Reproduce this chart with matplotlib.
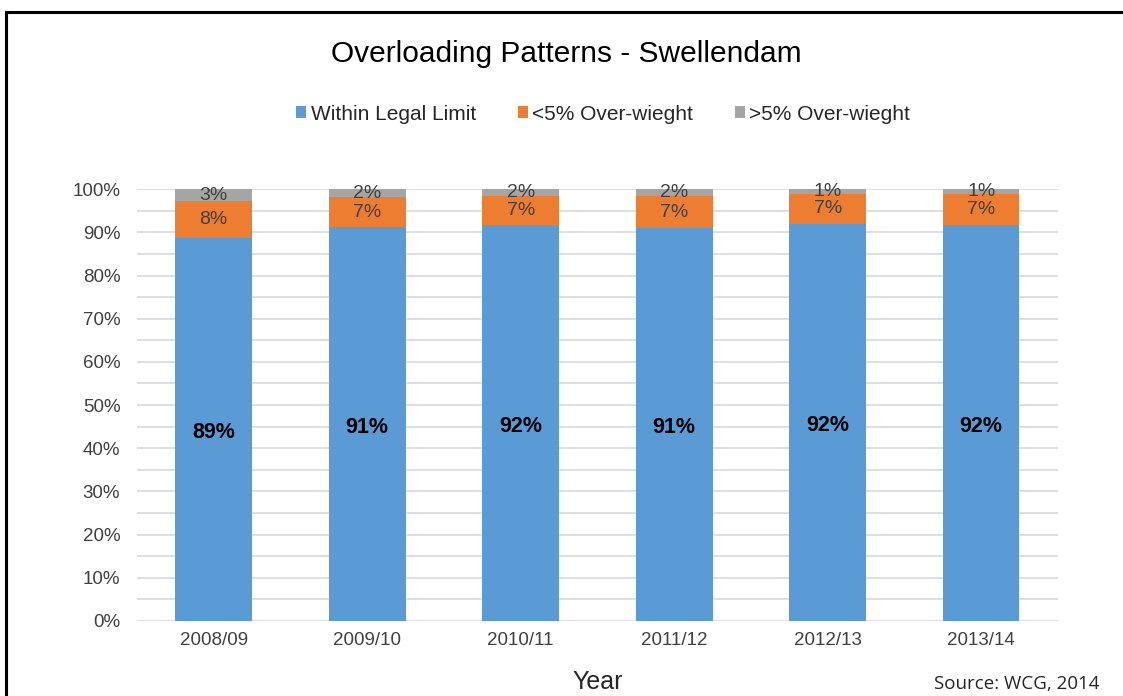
import matplotlib.pyplot as plt
import numpy as np
from matplotlib.lines import Line2D
from matplotlib.patches import Patch

plt.rcParams['font.family'] = ['Liberation Sans', 'DejaVu Sans']

years = ["2008/09", "2009/10", "2010/11", "2011/12", "2012/13", "2013/14"]
within_limit = [88.8, 91.2, 91.8, 91.0, 92.0, 91.7]
under_5 = [8.4, 7.0, 6.6, 7.4, 7.0, 7.3]
over_5 = [2.8, 1.8, 1.6, 1.6, 1.0, 1.0]
series_names = ["Within Legal Limit", "<5% Over-wieght", ">5% Over-wieght"]
colors = ["#5B9BD5", "#ED7D31", "#A5A5A5"]

fig = plt.figure(figsize=(11.23, 6.96), dpi=100)
ax = fig.add_axes([0.122, 0.108, 0.820, 0.620])

x = np.arange(len(years))
w = 0.5
ax.bar(x, within_limit, w, color=colors[0], zorder=2)
ax.bar(x, under_5, w, bottom=within_limit, color=colors[1], zorder=2)
bot3 = np.array(within_limit) + np.array(under_5)
ax.bar(x, over_5, w, bottom=bot3, color=colors[2], zorder=2)

# segment labels
for i in range(len(years)):
    ax.text(x[i], within_limit[i] / 2 - 0.8, "%.0f%%" % within_limit[i],
            ha="center", va="center", fontsize=15.5, fontweight="bold",
            color="black", zorder=3)
    ax.text(x[i], within_limit[i] + under_5[i] / 2, "%.0f%%" % under_5[i],
            ha="center", va="center", fontsize=14, color="#404040", zorder=3)
    ax.text(x[i], bot3[i] + over_5[i] / 2, "%.0f%%" % over_5[i],
            ha="center", va="center", fontsize=14, color="#404040", zorder=3)

ax.set_xlim(-0.5, len(years) - 0.5)
ax.set_ylim(0, 100)
ax.set_yticks(np.arange(0, 101, 10))
ax.set_yticklabels(["%d%%" % v for v in range(0, 101, 10)])
ax.set_yticks(np.arange(5, 100, 10), minor=True)
ax.set_xticks(x)
ax.set_xticklabels(years)
ax.tick_params(axis="both", which="both", length=0, labelsize=13.5, colors="#404040")
ax.tick_params(axis="x", pad=8)
ax.tick_params(axis="y", pad=12)
ax.grid(axis="y", which="both", color="#d9d9d9", lw=1.2, zorder=0)
for s in ["top", "right", "left", "bottom"]:
    ax.spines[s].set_visible(False)

ax.set_xlabel("Year", fontsize=18, color="#262626", labelpad=15)

fig.text(0.504, 0.922, "Overloading Patterns - Swellendam", ha="center",
         va="center", fontsize=21.5, color="black")

handles = [Patch(facecolor=c) for c in colors]
fig.legend(handles, series_names, loc="center", bbox_to_anchor=(0.537, 0.836),
           ncol=3, frameon=False, fontsize=15, handlelength=0.5,
           handleheight=0.5, handletextpad=0.2, columnspacing=2.0,
           labelcolor="#262626")

fig.text(0.979, 0.017, "Source: WCG, 2014", ha="right", va="center",
         fontsize=13.5, color="#262626", family=["Open Sans", "DejaVu Sans"])

# frame lines on left and top edges
fig.add_artist(Line2D([0.0054, 0.0054], [0.0, 0.983], color="black", lw=2.2,
                      transform=fig.transFigure))
fig.add_artist(Line2D([0.0054, 1.0], [0.983, 0.983], color="black", lw=2.2,
                      transform=fig.transFigure))

fig.savefig("out.png", dpi=100, facecolor="white")
